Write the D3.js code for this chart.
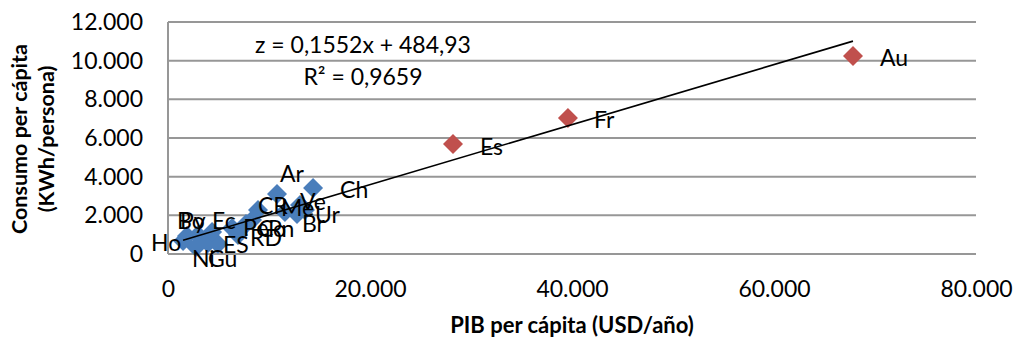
<!DOCTYPE html>
<html>
<head>
<meta charset="utf-8">
<script src="https://cdn.jsdelivr.net/npm/d3@7"></script>
<style>
  html, body { margin: 0; padding: 0; background: #fff; }
  svg { display: block; font-family: Lato, "Open Sans", sans-serif; }
</style>
</head>
<body>
<svg id="chart" width="1016" height="339"></svg>
<script>
// Latin American countries (blue) and reference countries (red)
const latamCodes = ["Ho", "Ni", "Bo", "Py", "Gu", "ES", "Ec", "Pe", "RD", "Co", "Pn", "CR", "Ar", "Me", "Ve", "Br", "Ur", "Ch"];
const latamPib   = [1490, 2770, 1880, 2970, 4950, 3960, 4360, 6340, 6930, 7720, 8320, 8910, 10790, 11580, 13070, 12770, 13560, 14360];
const latamCons  = [670, 360, 930, 980, 520, 570, 1140, 1350, 980, 1550, 1760, 2280, 3100, 2170, 2530, 2070, 2280, 3410];

const refCodes = ["Es", "Fr", "Au"];
const refPib   = [28220, 39600, 67820];
const refCons  = [5690, 7030, 10240];

// Linear fit shown on the chart
const slope = 0.1552;
const intercept = 484.93;
const fitText = ["z = 0,1552x + 484,93", "R² = 0,9659"];

const xTicks = [0, 20000, 40000, 60000, 80000];
const yTicks = [0, 2000, 4000, 6000, 8000, 10000, 12000];

// Label placement for each point: offset of the text's left edge / vertical middle
const latamLabelOffset = [
  [-32, 2], [-4, 12], [-10, -15], [-18, -14], [-10, 15], [15, 2], [0, -11], [11, 0], [12, 3],
  [12, 5], [16, 9], [0, -4], [3, -20], [-4, -4], [0, -3], [5, 10], [10, 5], [27, 2]
];
const refLabelOffset = [[27, 3], [26, 2], [27, 2]];

const svg = d3.select("#chart");
const margin = { left: 168, right: 40, top: 22, bottom: 85 };
const W = 1016, H = 339;

const x = d3.scaleLinear().domain([0, 80000]).range([margin.left, W - margin.right]);
const y = d3.scaleLinear().domain([0, 12000]).range([H - margin.bottom, margin.top]);

const es = d3.formatLocale({ decimal: ",", thousands: ".", grouping: [3], currency: ["", ""] });
const fmt = es.format(",");

// Horizontal gridlines
svg.append("g")
  .selectAll("line")
  .data(yTicks)
  .join("line")
  .attr("x1", x(0)).attr("x2", x(80000))
  .attr("y1", d => y(d)).attr("y2", d => y(d))
  .attr("stroke", "#979797").attr("stroke-width", 2);

// Vertical axis line
svg.append("line")
  .attr("x1", x(0)).attr("x2", x(0))
  .attr("y1", y(12000)).attr("y2", y(0))
  .attr("stroke", "#979797").attr("stroke-width", 2);

// Axes (labels only)
const yAxis = svg.append("g")
  .attr("transform", `translate(${x(0)},0)`)
  .call(d3.axisLeft(y).tickValues(yTicks).tickFormat(fmt).tickSize(0).tickPadding(25));
yAxis.select(".domain").remove();
yAxis.selectAll("text").attr("font-size", 23).attr("fill", "#000").attr("font-family", "Lato, sans-serif");

const xAxis = svg.append("g")
  .attr("transform", `translate(0,${y(0)})`)
  .call(d3.axisBottom(x).tickValues(xTicks).tickFormat(fmt).tickSize(0).tickPadding(27));
xAxis.select(".domain").remove();
xAxis.selectAll("text").attr("font-size", 23).attr("fill", "#000").attr("font-family", "Lato, sans-serif");

// Diamond marker
const diamond = "M0,-10L10,0L0,10L-10,0Z";

svg.append("g")
  .selectAll("path")
  .data(latamCodes.map((c, i) => ({ c, px: latamPib[i], cy: latamCons[i] })))
  .join("path")
  .attr("d", diamond)
  .attr("transform", d => `translate(${x(d.px)},${y(d.cy)})`)
  .attr("fill", "#4a7ebb");

svg.append("g")
  .selectAll("path")
  .data(refCodes.map((c, i) => ({ c, px: refPib[i], cy: refCons[i] })))
  .join("path")
  .attr("d", diamond)
  .attr("transform", d => `translate(${x(d.px)},${y(d.cy)})`)
  .attr("fill", "#c0504d");

// Trend line over the full range of the data
const allPib = latamPib.concat(refPib);
const xMin = d3.min(allPib), xMax = d3.max(allPib);
svg.append("line")
  .attr("x1", x(xMin)).attr("y1", y(slope * xMin + intercept))
  .attr("x2", x(xMax)).attr("y2", y(slope * xMax + intercept))
  .attr("stroke", "#000").attr("stroke-width", 1.6);

// Point labels
const labelData = latamCodes.map((c, i) => ({ c, px: latamPib[i], cy: latamCons[i], off: latamLabelOffset[i] }))
  .concat(refCodes.map((c, i) => ({ c, px: refPib[i], cy: refCons[i], off: refLabelOffset[i] })));

svg.append("g")
  .selectAll("text")
  .data(labelData)
  .join("text")
  .attr("x", d => x(d.px) + d.off[0])
  .attr("y", d => y(d.cy) + d.off[1])
  .attr("dy", "0.35em")
  .attr("font-size", 23)
  .attr("fill", "#000")
  .text(d => d.c);

// Fit equation
svg.append("g")
  .selectAll("text")
  .data(fitText)
  .join("text")
  .attr("x", 363)
  .attr("y", (d, i) => 53 + i * 32)
  .attr("text-anchor", "middle")
  .attr("font-size", 23)
  .attr("fill", "#000")
  .text(d => d);

// Axis titles
svg.append("text")
  .attr("x", x(40000))
  .attr("y", 333)
  .attr("text-anchor", "middle")
  .attr("font-size", 22)
  .attr("font-weight", "bold")
  .attr("fill", "#000")
  .text("PIB per cápita (USD/año)");

const yTitle = svg.append("text")
  .attr("transform", "translate(0,139) rotate(-90)")
  .attr("text-anchor", "middle")
  .attr("font-size", 21.5)
  .attr("font-weight", "bold")
  .attr("fill", "#000");
yTitle.append("tspan").attr("x", 0).attr("y", 27).text("Consumo per cápita");
yTitle.append("tspan").attr("x", 0).attr("y", 54).text("(KWh/persona)");
</script>
</body>
</html>
